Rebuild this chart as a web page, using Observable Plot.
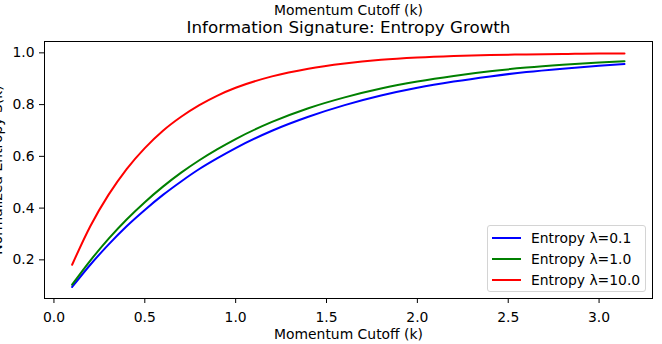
<!DOCTYPE html>
<html><head><meta charset="utf-8">
<script src="https://cdn.jsdelivr.net/npm/d3@7"></script>
<script src="https://cdn.jsdelivr.net/npm/@observablehq/plot@0.6"></script>
<style>
body{margin:0;background:#fff;font-family:"DejaVu Sans",sans-serif;}
#wrap{position:relative;width:662px;height:344px;overflow:hidden;}
#legend{position:absolute;left:487px;top:225px;width:159px;height:67px;border:1px solid #d4d4d4;border-radius:3px;background:rgba(255,255,255,0.8);box-sizing:border-box;}
.row{position:absolute;left:0;height:20px;width:100%;}
.row svg{position:absolute;left:4px;top:0;}
.row span{position:absolute;left:43px;top:1px;font-size:13.9px;line-height:18px;color:#000;white-space:nowrap;}
</style></head><body><div id="wrap"></div>
<script>
const kValues = [0.1,0.2,0.3,0.4,0.5,0.6,0.7,0.8,0.9,1.0,1.2,1.4,1.6,1.8,2.0,2.2,2.4,2.6,2.8,3.0,3.14];
const seriesNames = ["Entropy λ=0.1","Entropy λ=1.0","Entropy λ=10.0"];
const seriesColors = ["blue","green","red"];
const entropyLow  = [0.095,0.181,0.259,0.330,0.393,0.451,0.503,0.551,0.593,0.632,0.699,0.753,0.798,0.835,0.865,0.889,0.909,0.926,0.939,0.950,0.957];
const entropyMid  = [0.104,0.197,0.281,0.356,0.423,0.483,0.537,0.585,0.628,0.667,0.733,0.786,0.828,0.862,0.889,0.911,0.929,0.943,0.954,0.963,0.968];
const entropyHigh = [0.181,0.330,0.451,0.551,0.632,0.699,0.753,0.798,0.835,0.865,0.909,0.939,0.959,0.973,0.982,0.988,0.992,0.994,0.996,0.998,0.998];
const xTicks = [0,0.5,1,1.5,2,2.5,3];
const yTicks = [0.2,0.4,0.6,0.8,1.0];
const xLabel = "Momentum Cutoff (k)";
const yLabel = "Normalized Entropy S(k)";
const title = "Information Signature: Entropy Growth";

const data = [];
[entropyLow, entropyMid, entropyHigh].forEach((arr,i)=>arr.forEach((v,j)=>data.push({k:kValues[j], s:v, series:seriesNames[i]})));

const chart = Plot.plot({
  width:662, height:344,
  marginLeft:44, marginRight:10, marginTop:41, marginBottom:46,
  style:{fontFamily:"DejaVu Sans", fontSize:"13.9px", background:"white", color:"black", overflow:"visible"},
  x:{domain:[-0.052,3.294]},
  y:{domain:[0.0506,1.0439]},
  color:{domain:seriesNames, range:seriesColors},
  marks:[
    Plot.line(data,{x:"k",y:"s",stroke:"series",strokeWidth:2,curve:"monotone-x"}),
    Plot.frame({stroke:"black", strokeWidth:1}),
    Plot.axisX({ticks:xTicks, tickFormat:d3.format(".1f"), tickSize:5, tickPadding:9, label:null, fontSize:13.9}),
    Plot.axisY({ticks:yTicks, tickFormat:d3.format(".1f"), tickSize:5, tickPadding:5, label:null, fontSize:13.9}),
    Plot.text([xLabel],{frameAnchor:"bottom", dy:40, text:d=>d, fontSize:13.9}),
    Plot.text([xLabel],{frameAnchor:"top", dy:-36, text:d=>d, fontSize:13.9}),
    Plot.text([title],{frameAnchor:"top", dy:-20, text:d=>d, fontSize:16.7}),
    Plot.text([yLabel],{frameAnchor:"left", dx:-47, rotate:-90, textAnchor:"middle", text:d=>d, fontSize:13.9})
  ]
});
const wrap = document.getElementById("wrap");
wrap.appendChild(chart);

const legend = document.createElement("div");
legend.id = "legend";
const rowTops = [2, 23, 44];
seriesNames.forEach((name,i)=>{
  const row = document.createElement("div");
  row.className = "row";
  row.style.top = rowTops[i] + "px";
  row.innerHTML = `<svg width="30" height="20"><line x1="0" x2="29" y1="10" y2="10" stroke="${seriesColors[i]}" stroke-width="2"/></svg><span>${name}</span>`;
  legend.appendChild(row);
});
wrap.appendChild(legend);
</script>
</body></html>
